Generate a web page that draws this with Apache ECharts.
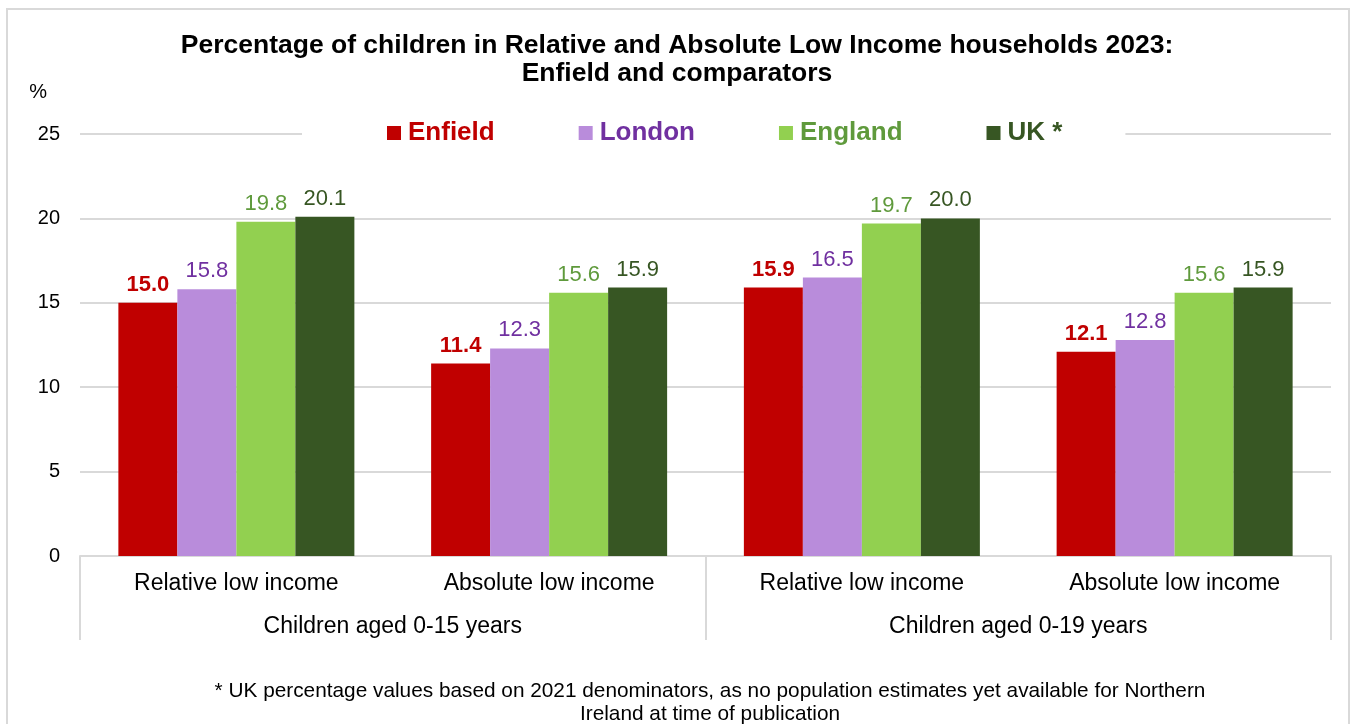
<!DOCTYPE html>
<html>
<head>
<meta charset="utf-8">
<title>Children in low income households 2023</title>
<script src="https://cdn.jsdelivr.net/npm/echarts@6/dist/echarts.min.js"></script>
<style>
  html, body { margin: 0; padding: 0; background: #fff; }
  #chart { width: 1354px; height: 724px; }
</style>
</head>
<body>
<div id="chart"></div>
<script>
// categories
var measures = ['Relative low income', 'Absolute low income', 'Relative low income', 'Absolute low income'];
var ageGroups = ['Children aged 0-15 years', 'Children aged 0-19 years'];
var yTicks = [0, 5, 10, 15, 20, 25];

// series values (%)
var enfield = [15.0, 11.4, 15.9, 12.1];
var london = [15.8, 12.3, 16.5, 12.8];
var england = [19.8, 15.6, 19.7, 15.6];
var uk = [20.1, 15.9, 20.0, 15.9];

var font = '"Liberation Sans", Arial, sans-serif';
var grey = '#d9d9d9';

function bar(name, data, color, labelColor, bold) {
    return {
        name: name,
        type: 'bar',
        data: data,
        barWidth: 59,
        barGap: '0%',
        itemStyle: { color: color },
        label: {
            show: true,
            position: 'top',
            distance: 7,
            formatter: function (p) { return p.value.toFixed(1); },
            color: labelColor,
            fontFamily: font,
            fontSize: 22,
            fontWeight: bold ? 'bold' : 'normal'
        }
    };
}

var chart = echarts.init(document.getElementById('chart'));
chart.setOption({
    backgroundColor: '#fff',
    animation: false,
    textStyle: { fontFamily: font },
    title: [{
        text: 'Percentage of children in Relative and Absolute Low Income households 2023:\nEnfield and comparators',
        left: 'center',
        top: 27,
        textStyle: { fontFamily: font, fontSize: 26.5, fontWeight: 'bold', color: '#000', lineHeight: 28 }
    }, {
        text: '* UK percentage values based on 2021 denominators, as no population estimates yet available for Northern\nIreland at time of publication',
        left: 705,
        textAlign: 'center',
        top: 675,
        textStyle: { fontFamily: font, fontSize: 20.8, fontWeight: 'normal', color: '#000', lineHeight: 23 }
    }],
    graphic: [{
        type: 'rect',
        silent: true,
        shape: { x: 7, y: 9, width: 1342, height: 740 },
        style: { fill: 'none', stroke: grey, lineWidth: 2 }
    }],
    legend: {
        left: 302,
        top: 116,
        backgroundColor: '#fff',
        padding: [4, 63, 4, 85],
        itemGap: 84,
        itemWidth: 14,
        itemHeight: 14,
        icon: 'rect',
        textStyle: { fontFamily: font, fontSize: 26, fontWeight: 'bold', padding: [0, 0, 0, 2] },
        data: [
            { name: 'Enfield', textStyle: { color: '#c00000' } },
            { name: 'London', textStyle: { color: '#7030a0' } },
            { name: 'England', textStyle: { color: '#5f9a3c' } },
            { name: 'UK *', textStyle: { color: '#375623' } }
        ]
    },
    grid: { left: 80, right: 23, top: 134, bottom: 168 },
    xAxis: [{
        type: 'category',
        data: measures,
        axisLine: { lineStyle: { color: grey, width: 2 } },
        axisTick: { show: false },
        axisLabel: { color: '#000', fontSize: 23, margin: 16, fontFamily: font }
    }, {
        type: 'category',
        data: ageGroups,
        position: 'bottom',
        axisLine: { show: false },
        axisTick: { show: true, length: 84, lineStyle: { color: grey, width: 2 } },
        axisLabel: { color: '#000', fontSize: 23, margin: 59, fontFamily: font },
        splitLine: { show: false }
    }],
    yAxis: {
        type: 'value',
        min: yTicks[0],
        max: yTicks[yTicks.length - 1],
        interval: 5,
        name: '%',
        nameGap: 32,
        nameTextStyle: { color: '#000', fontSize: 20, align: 'right', padding: [0, 33, 0, 0], fontFamily: font },
        axisLine: { show: false },
        axisTick: { show: false },
        axisLabel: { color: '#000', fontSize: 20, margin: 20, fontFamily: font },
        splitLine: { lineStyle: { color: grey, width: 2 } }
    },
    series: [
        bar('Enfield', enfield, '#c00000', '#c00000', true),
        bar('London', london, '#b98cdb', '#7030a0', false),
        bar('England', england, '#92d050', '#5f9a3c', false),
        bar('UK *', uk, '#375623', '#375623', false)
    ]
});
</script>
</body>
</html>
